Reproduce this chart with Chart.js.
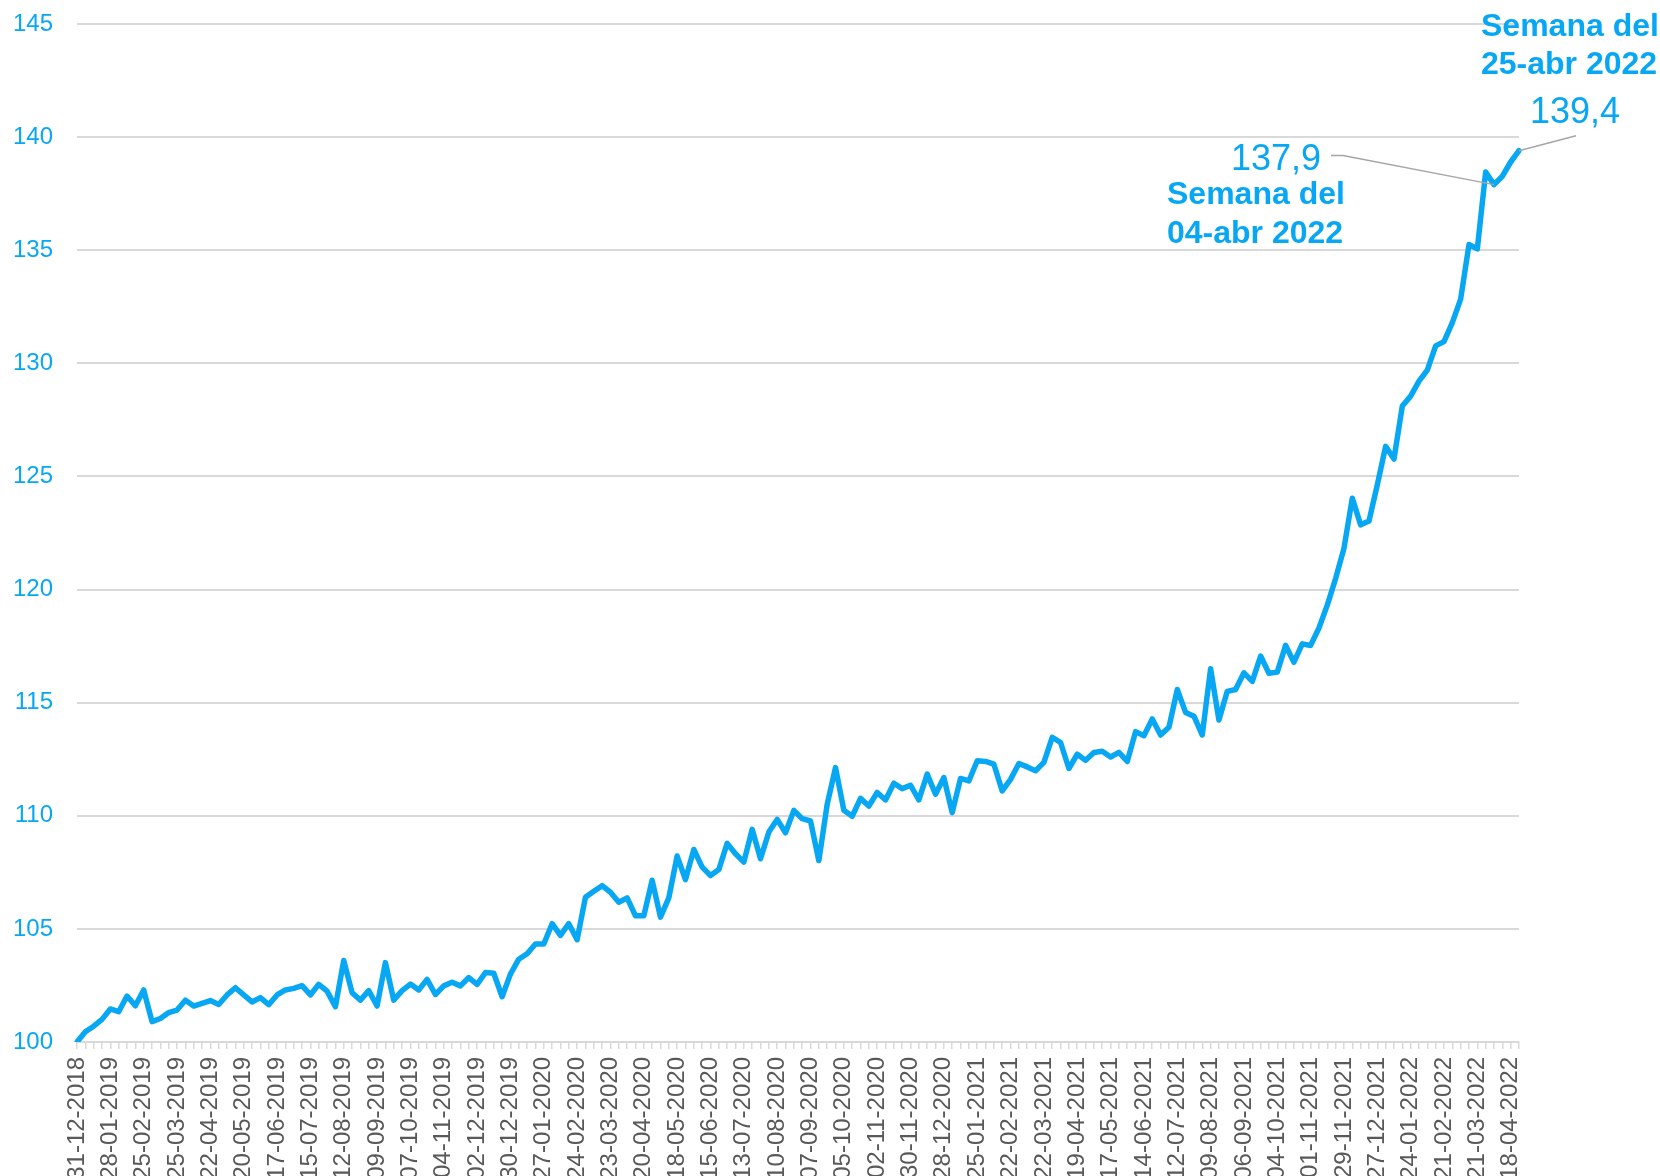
<!DOCTYPE html>
<html>
<head>
<meta charset="utf-8">
<script src="https://cdn.jsdelivr.net/npm/chart.js@4"></script>
<style>
  html, body { margin: 0; padding: 0; background: #fff; }
  #wrap { width: 1660px; height: 1176px; position: relative; }
</style>
</head>
<body>
<div id="wrap"><canvas id="chart"></canvas></div>
<script>
// weekly index, first week = 31-12-2018, 174 weeks
const startWeek = "2018-12-31";
const weekCount = 174;
const labelEvery = 4;

const indexValues = [
  100.0, 100.45, 100.7, 101.0, 101.46, 101.34, 102.03, 101.6, 102.3, 100.9,
  101.04, 101.3, 101.41, 101.85, 101.59, 101.71, 101.83, 101.66, 102.08, 102.4,
  102.08, 101.77, 101.96, 101.65, 102.08, 102.3, 102.37, 102.49, 102.08, 102.55,
  102.25, 101.56, 103.6, 102.18, 101.85, 102.27, 101.59, 103.51, 101.85, 102.27,
  102.56, 102.3, 102.77, 102.1, 102.48, 102.64, 102.48, 102.85, 102.55, 103.07,
  103.04, 102.0, 103.0, 103.66, 103.9, 104.33, 104.33, 105.23, 104.71, 105.23,
  104.52, 106.4, 106.66, 106.91, 106.62, 106.18, 106.37, 105.58, 105.58, 107.15,
  105.52, 106.37, 108.22, 107.18, 108.51, 107.73, 107.36, 107.62, 108.78, 108.32,
  107.95, 109.4, 108.1, 109.28, 109.84, 109.25, 110.24, 109.87, 109.77, 108.02,
  110.5, 112.13, 110.24, 109.98, 110.77, 110.43, 111.03, 110.7, 111.44, 111.2,
  111.35, 110.7, 111.84, 110.95, 111.69, 110.14, 111.65, 111.54, 112.43, 112.4,
  112.28, 111.1, 111.61, 112.31, 112.16, 111.99, 112.36, 113.47, 113.24, 112.09,
  112.72, 112.45, 112.8, 112.85, 112.6, 112.8, 112.4, 113.72, 113.54, 114.28,
  113.57, 113.91, 115.58, 114.57, 114.4, 113.57, 116.5, 114.23, 115.5, 115.58,
  116.32, 115.94, 117.06, 116.3, 116.35, 117.53, 116.79, 117.6, 117.53, 118.3,
  119.31, 120.49, 121.82, 124.04, 122.86, 123.03, 124.63, 126.33, 125.77, 128.11,
  128.55, 129.21, 129.7, 130.77, 130.96, 131.8, 132.84, 135.25, 135.06, 138.46,
  137.9, 138.27, 138.9, 139.4
];

const yMin = 100;
const yMax = 145;
const yStep = 5;

// highlighted weeks: index, value text, two title lines
const calloutWeeks = [170, 173];
const calloutValues = ["137,9", "139,4"];
const calloutTitles = [["Semana del", "04-abr 2022"], ["Semana del", "25-abr 2022"]];

const pad = (n) => String(n).padStart(2, "0");
const weekLabels = [];
for (let i = 0; i < weekCount; i++) {
  const d = new Date(startWeek + "T00:00:00Z");
  d.setUTCDate(d.getUTCDate() + i * 7);
  weekLabels.push(`${pad(d.getUTCDate())}-${pad(d.getUTCMonth() + 1)}-${d.getUTCFullYear()}`);
}

const blue = "#07a7f4";
const grey = "#595959";
const gridColor = "#d9d9d9";
const fontFamily = "'Liberation Sans', Arial, sans-serif";
Chart.defaults.font.family = fontFamily;

const calloutPlugin = {
  id: "callouts",
  afterDatasetsDraw(chart) {
    const { ctx, scales } = chart;
    const pts = calloutWeeks.map((i) => ({
      x: scales.x.getPixelForValue(i),
      y: scales.y.getPixelForValue(indexValues[i]),
    }));
    ctx.save();
    ctx.strokeStyle = "#a6a6a6";
    ctx.lineWidth = 1.5;
    ctx.fillStyle = blue;
    ctx.textBaseline = "alphabetic";

    // 04-abr
    const a = pts[0];
    ctx.beginPath();
    ctx.moveTo(a.x, a.y);
    ctx.lineTo(a.x - 151, a.y - 29);
    ctx.lineTo(a.x - 163, a.y - 29);
    ctx.stroke();
    ctx.textAlign = "right";
    ctx.font = `36px ${fontFamily}`;
    ctx.fillText(calloutValues[0], a.x - 173, a.y - 15);
    ctx.textAlign = "left";
    ctx.font = `bold 32px ${fontFamily}`;
    ctx.fillText(calloutTitles[0][0], 1167, 204);
    ctx.fillText(calloutTitles[0][1], 1167, 243);

    // 25-abr
    const b = pts[1];
    ctx.beginPath();
    ctx.moveTo(b.x, b.y);
    ctx.lineTo(b.x + 57, b.y - 15);
    ctx.stroke();
    ctx.font = `36px ${fontFamily}`;
    ctx.fillText(calloutValues[1], 1530, 123);
    ctx.font = `bold 32px ${fontFamily}`;
    ctx.fillText(calloutTitles[1][0], 1481, 36);
    ctx.fillText(calloutTitles[1][1], 1481, 74);
    ctx.restore();
  },
};

new Chart(document.getElementById("chart"), {
  type: "line",
  data: {
    labels: weekLabels,
    datasets: [{
      data: indexValues,
      borderColor: blue,
      borderWidth: 5.5,
      borderJoinStyle: "round",
      borderCapStyle: "round",
      pointRadius: 0,
      tension: 0,
      fill: false,
    }],
  },
  options: {
    responsive: true,
    maintainAspectRatio: false,
    animation: false,
    layout: { padding: { top: 24, right: 141, left: 0, bottom: 0 } },
    plugins: { legend: { display: false }, tooltip: { enabled: false } },
    scales: {
      x: {
        grid: { display: true, drawOnChartArea: false, drawTicks: true, tickLength: 7, color: gridColor, lineWidth: 1.5 },
        border: { display: true, color: gridColor, width: 2 },
        ticks: {
          autoSkip: false,
          minRotation: 90,
          maxRotation: 90,
          padding: 8,
          color: grey,
          font: { size: 24 },
          callback: (v, i) => (i % labelEvery === 0 ? weekLabels[i] : ""),
        },
        afterFit: (scale) => {
          scale.height = 134;
          scale.paddingLeft = 0;
          scale.paddingRight = 0;
        },
      },
      y: {
        min: yMin,
        max: yMax,
        grid: { color: gridColor, lineWidth: 2, drawTicks: false },
        border: { display: false },
        ticks: { stepSize: yStep, padding: 24, color: blue, font: { size: 24 } },
        afterFit: (scale) => {
          scale.width = 77;
          scale.paddingTop = 0;
          scale.paddingBottom = 0;
        },
      },
    },
  },
  plugins: [calloutPlugin],
});
</script>
</body>
</html>
